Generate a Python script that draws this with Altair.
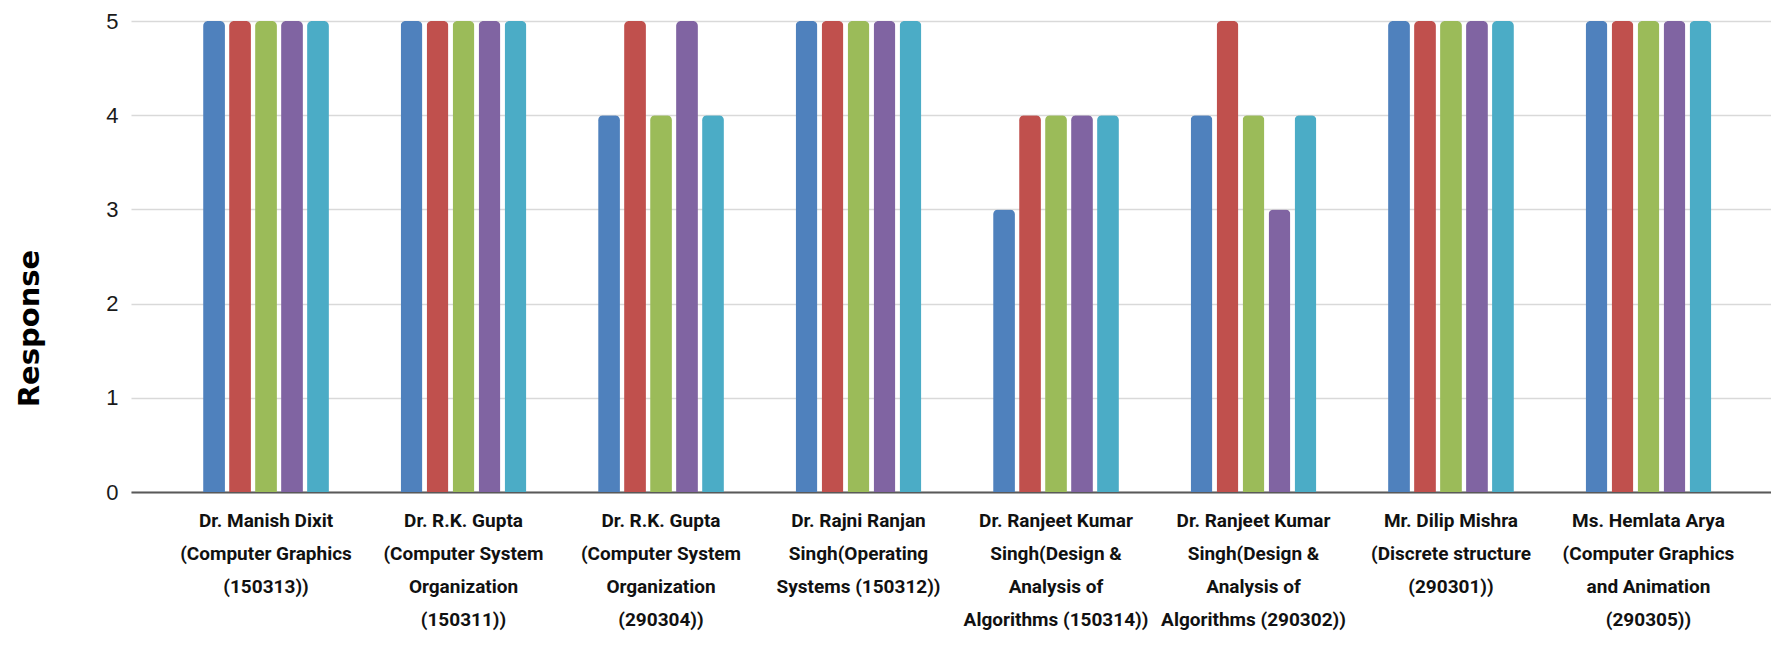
import altair as alt
import pandas as pd

categories = [
    "Dr. Manish Dixit|(Computer Graphics|(150313))",
    "Dr. R.K. Gupta|(Computer System|Organization|(150311))",
    "Dr. R.K. Gupta|(Computer System|Organization|(290304))",
    "Dr. Rajni Ranjan|Singh(Operating|Systems (150312))",
    "Dr. Ranjeet Kumar|Singh(Design &|Analysis of|Algorithms (150314))",
    "Dr. Ranjeet Kumar|Singh(Design &|Analysis of|Algorithms (290302))",
    "Mr. Dilip Mishra|(Discrete structure|(290301))",
    "Ms. Hemlata Arya|(Computer Graphics|and Animation|(290305))",
]
series = ["Series 1", "Series 2", "Series 3", "Series 4", "Series 5"]
s1 = [5, 5, 4, 5, 3, 4, 5, 5]
s2 = [5, 5, 5, 5, 4, 5, 5, 5]
s3 = [5, 5, 4, 5, 4, 4, 5, 5]
s4 = [5, 5, 5, 5, 4, 3, 5, 5]
s5 = [5, 5, 4, 5, 4, 4, 5, 5]
colors = ["#4F81BD", "#C0504D", "#9BBB59", "#8064A2", "#4BACC6"]
y_ticks = [0, 1, 2, 3, 4, 5]

rows = []
for name, vals in zip(series, [s1, s2, s3, s4, s5]):
    for cat, v in zip(categories, vals):
        rows.append({"teacher": cat, "series": name, "value": v})
df = pd.DataFrame(rows)

chart = alt.Chart(df).mark_bar(
    cornerRadiusTopLeft=5, cornerRadiusTopRight=5
).encode(
    x=alt.X(
        "teacher:N",
        sort=categories,
        scale=alt.Scale(paddingInner=0.342, paddingOuter=0.323, align=0.549),
        axis=alt.Axis(
            title=None,
            labelAngle=0,
            labelExpr="split(datum.label, '|')",
            labelFont="Roboto",
            labelFontSize=19,
            labelFontWeight="bold",
            labelLineHeight=33,
            labelPadding=19,
            labelColor="#111111",
            labelLimit=0,
            labelBaseline="top",
            ticks=False,
            domainColor="#595959",
            domainWidth=2,
            grid=False,
        ),
    ),
    xOffset=alt.XOffset(
        "series:N", sort=series,
        scale=alt.Scale(paddingInner=0.16, paddingOuter=0.08),
    ),
    y=alt.Y(
        "value:Q",
        scale=alt.Scale(domain=[0, 5], nice=False),
        axis=alt.Axis(
            title="Response",
            values=y_ticks,
            format="d",
            labelFont="Liberation Sans",
            labelFontSize=22,
            labelColor="#1a1a1a",
            labelPadding=13,
            ticks=False,
            domain=False,
            gridColor="#D9D9D9",
            gridWidth=1.5,
            titleFont="DejaVu Sans",
            titleFontSize=29,
            titleFontWeight="bold",
            titleColor="#000000",
            titleAngle=270,
            titleX=-102,
            titleY=307,
            titleAlign="center",
            titleBaseline="middle",
        ),
    ),
    color=alt.Color(
        "series:N",
        scale=alt.Scale(domain=series, range=colors),
        legend=None,
    ),
).properties(
    width=1640,
    height=471,
    autosize=alt.AutoSizeParams(type="none"),
    padding={"left": 123, "top": 13, "right": 0, "bottom": 150},
).configure_view(stroke=None)

chart.save("out.html", embed_options={"renderer": "svg", "actions": False})
